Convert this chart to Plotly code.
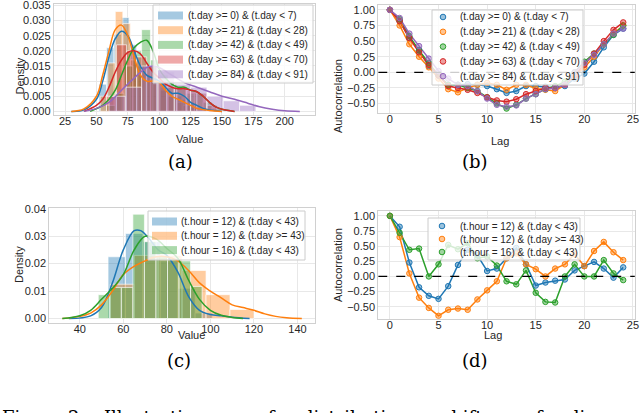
import plotly.graph_objects as go

C = ["#1f77b4", "#ff7f0e", "#2ca02c", "#d62728", "#9467bd"]

# ---- (a) value histograms by day window ----
names_a = ["(t.day >= 0) & (t.day < 7)", "(t.day >= 21) & (t.day < 28)",
           "(t.day >= 42) & (t.day < 49)", "(t.day >= 63) & (t.day < 70)",
           "(t.day >= 84) & (t.day < 91)"]
edges_a = [
    [52, 58, 64, 70, 76, 82, 88, 94, 100, 106, 112, 118, 124, 130],
    [53, 59, 65, 71, 77, 83, 89, 95, 101, 107, 113, 119, 125, 131],
    [58, 65, 72, 79, 86, 93, 100, 107, 114, 121, 128, 135, 142, 149],
    [58, 66, 74, 82, 90, 98, 106, 114, 122, 130, 138, 146],
    [60, 73, 86, 99, 112, 125, 138, 151, 164, 177],
]
dens_a = [
    [0.009, 0.021, 0.0255, 0.031, 0.022, 0.015, 0.012, 0.011, 0.007, 0.005, 0.005, 0.004, 0.003],
    [0.005, 0.016, 0.033, 0.029, 0.017, 0.013, 0.010, 0.009, 0.008, 0.005, 0.003, 0.002, 0.0015],
    [0.002, 0.006, 0.015, 0.020, 0.027, 0.017, 0.012, 0.009, 0.008, 0.006, 0.006, 0.003, 0.001],
    [0.005, 0.022, 0.020, 0.018, 0.015, 0.010, 0.008, 0.008, 0.007, 0.006, 0.002],
    [0.005, 0.008, 0.015, 0.013, 0.009, 0.008, 0.005, 0.0035, 0.002],
]
kde_x_a = [
    [30, 40, 50, 55, 60, 65, 70, 75, 80, 85, 90, 95, 100, 105, 110, 115, 120, 125, 130, 135, 140, 150],
    [30, 40, 50, 55, 60, 65, 70, 75, 80, 85, 90, 95, 100, 105, 110, 115, 120, 125, 130, 140, 150],
    [45, 55, 60, 65, 70, 75, 80, 85, 90, 95, 100, 105, 110, 115, 120, 125, 130, 135, 140, 145, 150, 160],
    [40, 50, 55, 60, 65, 70, 75, 80, 85, 90, 95, 100, 105, 110, 115, 120, 125, 130, 135, 140, 145, 150, 160],
    [40, 50, 60, 70, 80, 90, 95, 100, 110, 120, 130, 140, 150, 160, 170, 180, 190, 200, 212],
]
kde_y_a = [
    [0, 0.0005, 0.004, 0.010, 0.018, 0.024, 0.0265, 0.025, 0.020, 0.015, 0.012, 0.011, 0.010, 0.008,
     0.006, 0.006, 0.005, 0.003, 0.002, 0.001, 0.0005, 0],
    [0, 0.0008, 0.005, 0.012, 0.020, 0.027, 0.0285, 0.025, 0.018, 0.012, 0.010, 0.010, 0.0095, 0.007,
     0.005, 0.004, 0.003, 0.002, 0.001, 0.0003, 0],
    [0, 0.002, 0.004, 0.007, 0.012, 0.017, 0.021, 0.0228, 0.0235, 0.020, 0.014, 0.011, 0.009, 0.008,
     0.008, 0.007, 0.0065, 0.005, 0.003, 0.0015, 0.0007, 0],
    [0, 0.002, 0.004, 0.008, 0.013, 0.017, 0.0195, 0.020, 0.019, 0.016, 0.013, 0.011, 0.009, 0.008,
     0.0075, 0.0075, 0.007, 0.0065, 0.005, 0.003, 0.0015, 0.0007, 0],
    [0, 0.001, 0.003, 0.007, 0.011, 0.0145, 0.015, 0.0145, 0.012, 0.0095, 0.008, 0.0065, 0.005, 0.004,
     0.0028, 0.0015, 0.0007, 0.0002, 0],
]

# ---- (b) autocorrelation by day window ----
lags = list(range(25))
acf_b = [
    [1.0, 0.82, 0.55, 0.35, 0.10, -0.05, -0.20, -0.20, -0.19, -0.20, -0.22, -0.27, -0.33, -0.30, -0.22,
     -0.22, -0.23, -0.25, -0.22, -0.10, -0.02, 0.17, 0.40, 0.60, 0.70],
    [1.0, 0.75, 0.45, 0.25, 0.08, -0.10, -0.27, -0.32, -0.25, -0.20, -0.17, -0.20, -0.28, -0.20, -0.20,
     -0.26, -0.28, -0.30, -0.20, -0.05, 0.08, 0.25, 0.45, 0.62, 0.75],
    [1.0, 0.85, 0.58, 0.35, 0.15, -0.05, -0.20, -0.20, -0.25, -0.30, -0.40, -0.50, -0.58, -0.52, -0.42,
     -0.35, -0.27, -0.22, -0.15, 0.00, 0.17, 0.30, 0.45, 0.60, 0.75],
    [1.0, 0.82, 0.55, 0.32, 0.12, -0.05, -0.22, -0.25, -0.28, -0.33, -0.40, -0.45, -0.47, -0.43, -0.35,
     -0.30, -0.25, -0.25, -0.20, -0.05, 0.12, 0.30, 0.50, 0.68, 0.80],
    [1.0, 0.87, 0.62, 0.42, 0.22, 0.02, -0.10, -0.20, -0.22, -0.30, -0.42, -0.52, -0.55, -0.53, -0.42,
     -0.35, -0.27, -0.25, -0.20, 0.00, 0.15, 0.28, 0.45, 0.62, 0.70],
]

# ---- (c) value histograms by hour ----
names_c = ["(t.hour = 12) & (t.day < 43)", "(t.hour = 12) & (t.day >= 43)",
           "(t.hour = 16) & (t.day < 43)"]
edges_c = [
    [53, 61, 69, 77, 85, 93, 101],
    [54, 65, 76, 87, 98, 109, 120],
    [48.5, 53.8, 59.1, 64.4, 69.7, 75.0, 80.3, 85.6, 90.9, 96.2],
]
dens_c = [
    [0.0225, 0.031, 0.028, 0.021, 0.011, 0.002],
    [0.0125, 0.023, 0.023, 0.0175, 0.0087, 0.0033],
    [0.0087, 0.0113, 0.0113, 0.038, 0.028, 0.0225, 0.022, 0.021, 0.0117],
]
kde_x_c = [
    [35, 45, 50, 55, 60, 65, 68, 72, 76, 80, 85, 90, 95, 100, 105, 110, 118],
    [32, 40, 45, 50, 55, 60, 65, 70, 75, 80, 85, 90, 95, 100, 105, 110, 115, 120, 125, 130, 135, 142],
    [32, 40, 45, 50, 55, 60, 65, 70, 75, 80, 85, 90, 95, 100, 105, 110, 115],
]
kde_y_c = [
    [0, 0.001, 0.004, 0.013, 0.025, 0.032, 0.032, 0.029, 0.025, 0.023, 0.017, 0.008, 0.003, 0.0015,
     0.001, 0.0005, 0],
    [0, 0.0008, 0.002, 0.005, 0.010, 0.016, 0.019, 0.021, 0.0225, 0.0225, 0.021, 0.0175, 0.013, 0.010,
     0.0075, 0.005, 0.004, 0.003, 0.0017, 0.0008, 0.0003, 0],
    [0, 0.001, 0.003, 0.007, 0.011, 0.016, 0.025, 0.030, 0.029, 0.0255, 0.022, 0.014, 0.007, 0.003,
     0.0012, 0.0004, 0],
]

# ---- (d) autocorrelation by hour ----
acf_d = [
    [1.0, 0.82, 0.23, -0.18, -0.32, -0.37, -0.16, 0.19, 0.44, 0.35, 0.09, 0.13, 0.30, 0.47, 0.20,
     -0.15, -0.10, -0.07, -0.05, 0.10, 0.17, 0.24, 0.13, -0.02, 0.15],
    [1.0, 0.65, 0.05, -0.35, -0.52, -0.65, -0.55, -0.53, -0.55, -0.38, -0.23, -0.08, 0.30, 0.38, 0.20,
     0.12, 0.00, 0.13, 0.20, 0.37, 0.17, 0.42, 0.57, 0.40, 0.27],
    [1.0, 0.72, 0.44, 0.46, 0.00, 0.20, 0.52, 0.45, 0.55, 0.30, 0.33, 0.18, -0.08, -0.13, 0.10,
     -0.27, -0.42, -0.43, 0.00, 0.20, 0.00, 0.00, 0.27, 0.05, -0.06],
]

# caption line under the panels (only its top shows in the crop)
caption_words = ["Figure", "2:", "Illustrations", "of", "distribution", "shifts", "of", "di"]

FONT = "Liberation Sans"
TXT = "#262626"
W, H = 640, 413


def rgba(hexc, a):
    h = hexc.lstrip("#")
    return "rgba(%d,%d,%d,%s)" % (int(h[0:2], 16), int(h[2:4], 16), int(h[4:6], 16), a)


def px(x):
    return x / W


def py(y):
    return 1 - y / H


fig = go.Figure()


def add_hist(edges_all, dens_all, kx_all, ky_all, names, xa, ya):
    for i, (edges, dens) in enumerate(zip(edges_all, dens_all)):
        mids = [(a + b) / 2 for a, b in zip(edges[:-1], edges[1:])]
        widths = [b - a for a, b in zip(edges[:-1], edges[1:])]
        fig.add_trace(go.Bar(x=mids, y=dens, width=widths, name=names[i], showlegend=False,
                             marker=dict(color=rgba(C[i], 0.4), line=dict(color="rgba(255,255,255,0.8)", width=0.8)),
                             xaxis=xa, yaxis=ya))
    for i, (kx, ky) in enumerate(zip(kx_all, ky_all)):
        fig.add_trace(go.Scatter(x=kx, y=ky, mode="lines", line=dict(color=C[i], width=1.5, shape="spline"),
                                 showlegend=False, xaxis=xa, yaxis=ya))


def add_acf(series, names, xa, ya):
    for i, s in enumerate(series):
        fig.add_trace(go.Scatter(x=lags, y=s, mode="lines", line=dict(color=C[i], width=1.5),
                                 showlegend=False, xaxis=xa, yaxis=ya))
    for i, s in enumerate(series):
        fig.add_trace(go.Scatter(x=lags, y=s, mode="markers", name=names[i], showlegend=False,
                                 marker=dict(size=5.5, color=rgba(C[i], 0.45), line=dict(color=C[i], width=1)),
                                 xaxis=xa, yaxis=ya))
    fig.add_trace(go.Scatter(x=[-1.2, 25.2], y=[0, 0], mode="lines",
                             line=dict(color="black", width=1.3, dash="dash"),
                             showlegend=False, xaxis=xa, yaxis=ya))


add_hist(edges_a, dens_a, kde_x_a, kde_y_a, names_a, "x", "y")
add_acf(acf_b, names_a, "x2", "y2")
add_hist(edges_c, dens_c, kde_x_c, kde_y_c, names_c, "x3", "y3")
add_acf(acf_d, names_c, "x4", "y4")


# legend boxes drawn like matplotlib's (patch for hist, dot for scatter)
def legend(names, box, sym_x, text_x, y0, step, kind):
    x0, t0, x1, t1 = box
    fig.add_shape(type="rect", xref="paper", yref="paper", x0=px(x0), x1=px(x1), y0=py(t1), y1=py(t0),
                  fillcolor="rgba(255,255,255,0.8)", line=dict(color="#cccccc", width=1))
    for i, name in enumerate(names):
        yc = y0 + i * step
        if kind == "patch":
            fig.add_shape(type="rect", xref="paper", yref="paper", x0=px(sym_x), x1=px(sym_x + 25),
                          y0=py(yc + 4), y1=py(yc - 4), fillcolor=rgba(C[i], 0.4), line=dict(width=0))
        else:
            fig.add_shape(type="circle", xref="paper", yref="paper", x0=px(sym_x - 2.8), x1=px(sym_x + 2.8),
                          y0=py(yc + 2.8), y1=py(yc - 2.8), fillcolor=rgba(C[i], 0.45),
                          line=dict(color=C[i], width=1))
        fig.add_annotation(text=name, x=px(text_x), y=py(yc), xref="paper", yref="paper",
                           xanchor="left", yanchor="middle", showarrow=False,
                           font=dict(family=FONT, size=10, color=TXT))


legend(names_a, (153, 5, 313, 83), 158, 186, 15.5, 14.7, "patch")
legend(names_a, (432, 10, 583, 85), 443, 458, 17, 14.8, "dot")
legend(names_c, (148, 211, 305, 260), 152, 179, 221.5, 14.3, "patch")
legend(names_c, (428, 218, 580, 260), 442, 458, 226, 13, "dot")

ax = dict(showline=True, mirror=True, linecolor="#d0d0d0", linewidth=1, gridcolor="#e8e8e8",
          zeroline=False, ticks="", ticklen=0, automargin=False, ticklabeloverflow="allow",
          tickfont=dict(family=FONT, size=11, color=TXT))
xax = dict(ax, ticklabelstandoff=-4)

fig.update_layout(
    width=W, height=H, margin=dict(l=0, r=0, t=0, b=0, autoexpand=False),
    paper_bgcolor="white", plot_bgcolor="white", barmode="overlay", showlegend=False,
    xaxis=dict(xax, domain=[0.084, 0.492], range=[16, 224], dtick=25, tick0=25, anchor="y"),
    yaxis=dict(ax, domain=[0.7215, 0.9905], range=[-0.0012, 0.0355], dtick=0.005, tickformat=".3f", anchor="x"),
    xaxis2=dict(xax, domain=[0.591, 0.992], range=[-1.2, 25.2], dtick=5, anchor="y2"),
    yaxis2=dict(ax, domain=[0.726, 0.988], range=[-0.654, 1.079], dtick=0.25, tickformat=".2f", anchor="x2"),
    xaxis3=dict(xax, domain=[0.077, 0.492], range=[26, 148], dtick=20, tick0=40, anchor="y3"),
    yaxis3=dict(ax, domain=[0.218, 0.496], range=[-0.0016, 0.0402], dtick=0.01, tickformat=".2f", anchor="x3"),
    xaxis4=dict(xax, domain=[0.591, 0.992], range=[-1.2, 25.2], dtick=5, anchor="y4"),
    yaxis4=dict(ax, domain=[0.228, 0.489], range=[-0.70, 1.08], dtick=0.25, tickformat=".2f", anchor="x4"),
)

# axis titles, set tight to the tick labels as matplotlib does
for text, x, y, ang in [("Value", 175, 132, 0), ("Density", 12, 57, -90),
                        ("Lag", 510, 134, 0), ("Autocorrelation", 338, 58, -90),
                        ("Value", 177, 342, 0), ("Density", 12, 265, -90),
                        ("Lag", 503, 342, 0), ("Autocorrelation", 338, 265, -90)]:
    fig.add_annotation(text=text, x=px(x), y=py(y), xref="paper", yref="paper", showarrow=False,
                       textangle=ang, borderpad=0, font=dict(family=FONT, size=11, color=TXT))

serif = dict(family="DejaVu Serif", size=18, color="black")
for lab, x, y in [("(a)", 166, 161), ("(b)", 490, 161), ("(c)", 165, 373), ("(d)", 490, 373)]:
    fig.add_annotation(text=lab, x=px(x), y=py(y), xref="paper", yref="paper", showarrow=False, font=serif)

# justified caption: each word starts where it does in the source line
for word, x in zip(caption_words, [0, 66, 102, 255, 300, 440, 523, 566]):
    fig.add_annotation(text=word, x=px(x), y=py(417), xref="paper", yref="paper", xanchor="left",
                       yanchor="middle", showarrow=False, font=dict(family="DejaVu Serif", size=18, color="black"))

# the page body has a default 8px margin; drop it so the figure sits at the window corner
fig.write_html("out.html", config={"displayModeBar": False},
               post_script="document.body.style.margin='0';")
